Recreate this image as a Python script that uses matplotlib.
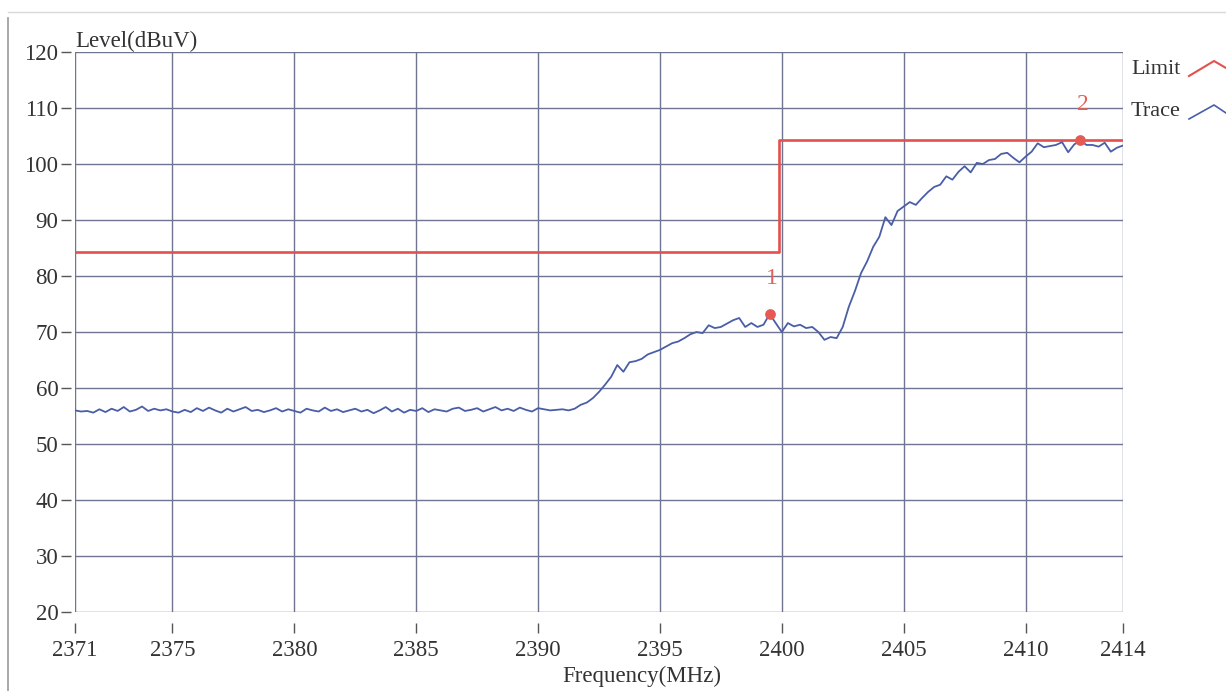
import numpy as np
import matplotlib
matplotlib.use("Agg")
import matplotlib.pyplot as plt
from matplotlib.lines import Line2D

# trace sampled every 0.25 MHz starting at 2371 MHz
STEP = 0.25
F_START = 2371.0

# 2371.00 .. 2391.50, noise floor
level_floor = [56.0, 55.8, 55.9, 55.6, 56.2, 55.7, 56.3, 55.9, 56.6, 55.8,
               56.1, 56.7, 55.9, 56.3, 56.0, 56.2, 55.8, 55.6, 56.1, 55.7,
               56.4, 55.9, 56.5, 56.0, 55.6, 56.3, 55.8, 56.2, 56.6, 55.9,
               56.1, 55.7, 56.0, 56.4, 55.8, 56.2, 55.9, 55.6, 56.3, 56.0,
               55.8, 56.5, 55.9, 56.2, 55.7, 56.0, 56.3, 55.8, 56.1, 55.5,
               56.0, 56.6, 55.8, 56.3, 55.6, 56.1, 55.9, 56.4, 55.7, 56.2,
               56.0, 55.8, 56.3, 56.5, 55.9, 56.1, 56.4, 55.8, 56.2, 56.6,
               56.0, 56.3, 55.9, 56.5, 56.1, 55.8, 56.4, 56.2, 56.0, 56.1,
               56.2, 56.0, 56.3]

# 2391.75 .. 2414.00, band edge and carrier skirt
level_band = [57.0, 57.4, 58.2, 59.3, 60.6, 62.0, 64.1, 62.9, 64.6, 64.8,
              65.2, 66.0, 66.4, 66.8, 67.4, 68.0, 68.3, 68.9, 69.6, 70.0,
              69.8, 71.2, 70.7, 70.9, 71.5, 72.1, 72.5, 70.9, 71.6, 70.9,
              71.3, 73.2, 71.6, 70.0, 71.6, 71.0, 71.3, 70.7, 70.9, 70.0,
              68.6, 69.1, 68.9, 70.9, 74.5, 77.3, 80.5, 82.6, 85.2, 87.0,
              90.5, 89.1, 91.6, 92.4, 93.2, 92.7, 93.9, 95.0, 95.9, 96.3,
              97.8, 97.2, 98.6, 99.6, 98.5, 100.2, 100.0, 100.7, 100.9, 101.8,
              102.0, 101.1, 100.3, 101.3, 102.2, 103.7, 103.0, 103.2, 103.4, 103.9,
              102.1, 103.5, 104.2, 103.4, 103.4, 103.1, 103.8, 102.2, 102.9, 103.3]

limit_freq = [2371, 2399.9, 2399.9, 2414]
limit_level = [84.3, 84.3, 104.3, 104.3]

marker_freq = [2399.5, 2412.25]
marker_level = [73.2, 104.2]
marker_label = ["1", "2"]

xticks = [2371, 2375, 2380, 2385, 2390, 2395, 2400, 2405, 2410, 2414]
yticks = [20, 30, 40, 50, 60, 70, 80, 90, 100, 110, 120]

W, H = 1226, 691
plt.rcParams["font.family"] = ["Liberation Serif", "DejaVu Serif"]

level = level_floor + level_band
freq = F_START + STEP * np.arange(len(level))

fig = plt.figure(figsize=(W / 100, H / 100), dpi=100)
ax = fig.add_axes([75 / W, 1 - 612 / H, (1123 - 75) / W, (612 - 52) / H])

ax.set_xlim(2371, 2414)
ax.set_ylim(20, 120)
ax.set_xticks(xticks)
ax.set_yticks(yticks)
ax.grid(True, color="#6f7590", linewidth=1.0)
ax.set_axisbelow(True)

# ticks sit a little off the plot box, the box itself is the outer grid
for side in ["top", "right", "left", "bottom"]:
    ax.spines[side].set_visible(False)
ax.spines["bottom"].set_position(("outward", 8))
ax.spines["left"].set_position(("outward", 3))
ax.tick_params(axis="x", length=7, width=1, color="#555555", pad=5,
               labelsize=16.5, labelcolor="#333333")
ax.tick_params(axis="y", length=7, width=1, color="#555555", pad=2,
               labelsize=16.5, labelcolor="#333333")

ax.plot(limit_freq, limit_level, color="#e2514d", linewidth=1.9)
ax.plot(freq, level, color="#4a5ea8", linewidth=1.3)
ax.scatter(marker_freq, marker_level, s=45, color="#e65a55", zorder=5)
for f, v, t in zip(marker_freq, marker_level, marker_label):
    ax.text(f + 0.1, v + 4.5, t, color="#e0605a", fontsize=17,
            ha="center", va="bottom")

ax.text(0.0, 1.0, "Level(dBuV)", transform=ax.transAxes, fontsize=16.5,
        color="#333333", ha="left", va="bottom")
fig.text(642 / W, 1 - 676 / H, "Frequency(MHz)", fontsize=16.5,
         color="#333333", ha="center", va="center")

# legend on the right, chevron style handles
fig.text(1131 / W, 1 - 70 / H, "Limit", fontsize=16, color="#333333",
         ha="left", va="center")
fig.text(1131 / W, 1 - 112 / H, "Trace", fontsize=16, color="#333333",
         ha="left", va="center")
px = np.array([1189, 1214, 1226])
fig.add_artist(Line2D(px / W, 1 - np.array([76, 61, 68]) / H,
                      color="#e2514d", linewidth=1.5))
fig.add_artist(Line2D(px / W, 1 - np.array([119, 105, 113]) / H,
                      color="#4a5ea8", linewidth=1.2))

# scanned page edges
fig.add_artist(Line2D([8 / W, 8 / W], [0, 1 - 18 / H], color="#9a9a9a",
                      linewidth=1.2))
fig.add_artist(Line2D([8 / W, 1], [1 - 12 / H, 1 - 12 / H], color="#d8d8d8",
                      linewidth=1.0))

fig.savefig("out.png", dpi=100)
